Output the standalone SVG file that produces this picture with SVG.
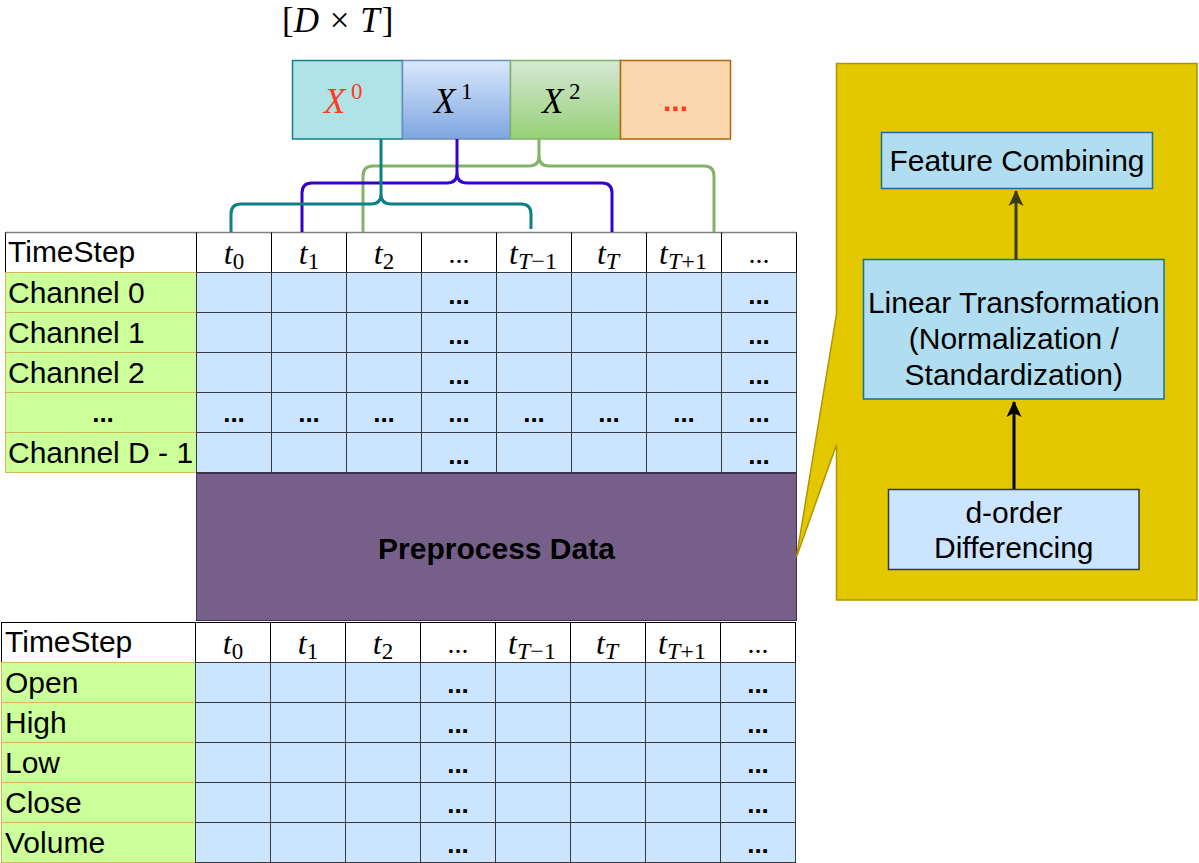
<svg xmlns="http://www.w3.org/2000/svg" width="1199" height="863" viewBox="0 0 1199 863">
<defs>
<linearGradient id="gBlue" x1="0" y1="0" x2="0" y2="1"><stop offset="0" stop-color="#dae8fc"/><stop offset="1" stop-color="#7ea6e0"/></linearGradient>
<linearGradient id="gGreen" x1="0" y1="0" x2="0" y2="1"><stop offset="0" stop-color="#d5e8d4"/><stop offset="1" stop-color="#97d077"/></linearGradient>
<marker id="arrBlack" markerUnits="userSpaceOnUse" markerWidth="16" markerHeight="16" viewBox="0 0 16 16" refX="15" refY="8" orient="auto"><path d="M0,0.5 L16,8 L0,15.5 L4,8 Z" fill="#000"/></marker>
<marker id="arrOlive" markerUnits="userSpaceOnUse" markerWidth="16" markerHeight="16" viewBox="0 0 16 16" refX="15" refY="8" orient="auto"><path d="M0,0.5 L16,8 L0,15.5 L4,8 Z" fill="#3a3a1a"/></marker>
<style>
.sans{font-family:"Liberation Sans",Arial,Helvetica,sans-serif;font-size:30px;fill:#000}
.serif{font-family:"Liberation Serif","Times New Roman",serif;fill:#000}
.it{font-style:italic}
.hdr{fill:#fff;stroke:#000;stroke-width:1}
.lbl{fill:#ccff99;stroke:#d6b656;stroke-width:1}
.cell{fill:#cce5ff;stroke:#36393d;stroke-width:1}
.grid{stroke:#36393d;stroke-width:1}
.hgrid{stroke:#000;stroke-width:1}
.dots{font-family:"Liberation Sans",Arial,sans-serif;font-size:26px;font-weight:bold;text-anchor:middle;fill:#000}
.tmath{font-family:"Liberation Serif","Times New Roman",serif;font-size:32px;text-anchor:middle;fill:#000}
.brace{fill:none;stroke-width:3;stroke-linejoin:round}
.box{fill:#b1ddf0;stroke:#10739e;stroke-width:1.5}
.mid{text-anchor:middle}
</style>
</defs>
<rect width="1199" height="863" fill="#fff"/>

<!-- dimension label -->
<g id="dim-label">
<text x="282" y="32" class="serif" font-size="35">[<tspan class="it">D</tspan> <tspan dx="2">×</tspan> <tspan class="it" dx="2">T</tspan><tspan dx="2">]</tspan></text>
</g>

<!-- X blocks -->
<g id="x0">
<rect x="292.5" y="60.5" width="110" height="78.5" fill="#b0e3e6" stroke="#0e8088" stroke-width="1.5"/>
<text x="324" y="112.7" class="serif it" font-size="35" style="fill:#ff3b1f">X</text>
<text x="351" y="99" class="serif" font-size="23" style="fill:#ff3b1f">0</text>
</g>
<g id="x1">
<rect x="402.5" y="60.5" width="108" height="78.5" fill="url(#gBlue)" stroke="#6c8ebf" stroke-width="1.5"/>
<text x="434" y="112.7" class="serif it" font-size="35">X</text>
<text x="461" y="99" class="serif" font-size="23">1</text>
</g>
<g id="x2">
<rect x="510.5" y="60.5" width="110" height="78.5" fill="url(#gGreen)" stroke="#82b366" stroke-width="1.5"/>
<text x="542" y="112.7" class="serif it" font-size="35">X</text>
<text x="569" y="99" class="serif" font-size="23">2</text>
</g>
<g id="x-more">
<rect x="620.5" y="60.5" width="110" height="78.5" fill="#fad7ac" stroke="#b46504" stroke-width="1.5"/>
<text x="675.5" y="111" class="sans mid" font-size="27" font-weight="bold" style="fill:#ff3b1f">...</text>
</g>

<!-- top table -->
<g id="table-top">
<rect class="hdr" x="5.5" y="232.5" width="791" height="40"/>
<line x1="5.5" y1="232.5" x2="796.5" y2="232.5" stroke="#808080" stroke-width="1.5"/>
<g class="hgrid">
<line x1="196.5" y1="232.5" x2="196.5" y2="272.5"/><line x1="271.5" y1="232.5" x2="271.5" y2="272.5"/><line x1="346.5" y1="232.5" x2="346.5" y2="272.5"/><line x1="421.5" y1="232.5" x2="421.5" y2="272.5"/><line x1="496.5" y1="232.5" x2="496.5" y2="272.5"/><line x1="571.5" y1="232.5" x2="571.5" y2="272.5"/><line x1="646.5" y1="232.5" x2="646.5" y2="272.5"/><line x1="721.5" y1="232.5" x2="721.5" y2="272.5"/>
</g>
<rect class="lbl" x="5.5" y="272.5" width="191" height="40"/>
<rect class="lbl" x="5.5" y="312.5" width="191" height="40"/>
<rect class="lbl" x="5.5" y="352.5" width="191" height="40"/>
<rect class="lbl" x="5.5" y="392.5" width="191" height="40"/>
<rect class="lbl" x="5.5" y="432.5" width="191" height="40"/>
<rect class="cell" x="196.5" y="272.5" width="600" height="200"/>
<g class="grid">
<line x1="196.5" y1="312.5" x2="796.5" y2="312.5"/><line x1="196.5" y1="352.5" x2="796.5" y2="352.5"/><line x1="196.5" y1="392.5" x2="796.5" y2="392.5"/><line x1="196.5" y1="432.5" x2="796.5" y2="432.5"/>
<line x1="271.5" y1="272.5" x2="271.5" y2="472.5"/><line x1="346.5" y1="272.5" x2="346.5" y2="472.5"/><line x1="421.5" y1="272.5" x2="421.5" y2="472.5"/><line x1="496.5" y1="272.5" x2="496.5" y2="472.5"/><line x1="571.5" y1="272.5" x2="571.5" y2="472.5"/><line x1="646.5" y1="272.5" x2="646.5" y2="472.5"/><line x1="721.5" y1="272.5" x2="721.5" y2="472.5"/>
</g>
<text class="sans" x="8" y="262">TimeStep</text>
<text class="tmath" x="234" y="264"><tspan class="it">t</tspan><tspan font-size="23" dy="5">0</tspan></text>
<text class="tmath" x="309" y="264"><tspan class="it">t</tspan><tspan font-size="23" dy="5">1</tspan></text>
<text class="tmath" x="384" y="264"><tspan class="it">t</tspan><tspan font-size="23" dy="5">2</tspan></text>
<text class="serif mid" font-size="28" x="459" y="263">...</text>
<text class="tmath" x="533" y="264"><tspan class="it">t</tspan><tspan font-size="24" dy="5"><tspan class="it">T</tspan>−1</tspan></text>
<text class="tmath" x="608" y="264"><tspan class="it">t</tspan><tspan font-size="24" dy="5" class="it">T</tspan></text>
<text class="tmath" x="683" y="264"><tspan class="it">t</tspan><tspan font-size="24" dy="5"><tspan class="it">T</tspan>+1</tspan></text>
<text class="serif mid" font-size="28" x="759" y="263">...</text>
<text class="sans" x="8" y="303">Channel 0</text>
<text class="sans" x="8" y="343">Channel 1</text>
<text class="sans" x="8" y="383">Channel 2</text>
<text class="dots" x="103" y="421.5">...</text>
<text class="sans" x="8" y="463">Channel D - 1</text>
<text class="dots" x="459" y="303.5">...</text><text class="dots" x="759" y="303.5">...</text>
<text class="dots" x="459" y="343.5">...</text><text class="dots" x="759" y="343.5">...</text>
<text class="dots" x="459" y="383.5">...</text><text class="dots" x="759" y="383.5">...</text>
<text class="dots" x="234" y="421.5">...</text><text class="dots" x="309" y="421.5">...</text><text class="dots" x="384" y="421.5">...</text><text class="dots" x="459" y="421.5">...</text><text class="dots" x="534" y="421.5">...</text><text class="dots" x="609" y="421.5">...</text><text class="dots" x="684" y="421.5">...</text><text class="dots" x="759" y="421.5">...</text>
<text class="dots" x="459" y="463.5">...</text><text class="dots" x="759" y="463.5">...</text>
</g>

<!-- preprocess -->
<g id="preprocess">
<rect x="196.5" y="473.5" width="600" height="147" fill="#76608a" stroke="#432d57" stroke-width="1"/>
<text class="sans mid" x="496.5" y="559" font-weight="bold">Preprocess Data</text>
</g>

<!-- bottom table -->
<g id="table-bottom">
<rect class="hdr" x="1.5" y="622.5" width="794" height="40"/>
<g class="hgrid">
<line x1="195.5" y1="622.5" x2="195.5" y2="662.5"/><line x1="270.5" y1="622.5" x2="270.5" y2="662.5"/><line x1="345.5" y1="622.5" x2="345.5" y2="662.5"/><line x1="420.5" y1="622.5" x2="420.5" y2="662.5"/><line x1="495.5" y1="622.5" x2="495.5" y2="662.5"/><line x1="570.5" y1="622.5" x2="570.5" y2="662.5"/><line x1="645.5" y1="622.5" x2="645.5" y2="662.5"/><line x1="720.5" y1="622.5" x2="720.5" y2="662.5"/>
</g>
<rect class="lbl" x="1.5" y="662.5" width="194" height="40"/>
<rect class="lbl" x="1.5" y="702.5" width="194" height="40"/>
<rect class="lbl" x="1.5" y="742.5" width="194" height="40"/>
<rect class="lbl" x="1.5" y="782.5" width="194" height="40"/>
<rect class="lbl" x="1.5" y="822.5" width="194" height="40"/>
<rect class="cell" x="195.5" y="662.5" width="600" height="200"/>
<g class="grid">
<line x1="195.5" y1="702.5" x2="795.5" y2="702.5"/><line x1="195.5" y1="742.5" x2="795.5" y2="742.5"/><line x1="195.5" y1="782.5" x2="795.5" y2="782.5"/><line x1="195.5" y1="822.5" x2="795.5" y2="822.5"/>
<line x1="270.5" y1="662.5" x2="270.5" y2="862.5"/><line x1="345.5" y1="662.5" x2="345.5" y2="862.5"/><line x1="420.5" y1="662.5" x2="420.5" y2="862.5"/><line x1="495.5" y1="662.5" x2="495.5" y2="862.5"/><line x1="570.5" y1="662.5" x2="570.5" y2="862.5"/><line x1="645.5" y1="662.5" x2="645.5" y2="862.5"/><line x1="720.5" y1="662.5" x2="720.5" y2="862.5"/>
</g>
<text class="sans" x="5" y="652">TimeStep</text>
<text class="tmath" x="233" y="654"><tspan class="it">t</tspan><tspan font-size="23" dy="5">0</tspan></text>
<text class="tmath" x="308" y="654"><tspan class="it">t</tspan><tspan font-size="23" dy="5">1</tspan></text>
<text class="tmath" x="383" y="654"><tspan class="it">t</tspan><tspan font-size="23" dy="5">2</tspan></text>
<text class="serif mid" font-size="28" x="458" y="653">...</text>
<text class="tmath" x="532" y="654"><tspan class="it">t</tspan><tspan font-size="24" dy="5"><tspan class="it">T</tspan>−1</tspan></text>
<text class="tmath" x="607" y="654"><tspan class="it">t</tspan><tspan font-size="24" dy="5" class="it">T</tspan></text>
<text class="tmath" x="682" y="654"><tspan class="it">t</tspan><tspan font-size="24" dy="5"><tspan class="it">T</tspan>+1</tspan></text>
<text class="serif mid" font-size="28" x="758" y="653">...</text>
<text class="sans" x="5" y="693">Open</text>
<text class="sans" x="5" y="733">High</text>
<text class="sans" x="5" y="773">Low</text>
<text class="sans" x="5" y="813">Close</text>
<text class="sans" x="5" y="853">Volume</text>
<text class="dots" x="458" y="692.5">...</text><text class="dots" x="758" y="692.5">...</text>
<text class="dots" x="458" y="732.5">...</text><text class="dots" x="758" y="732.5">...</text>
<text class="dots" x="458" y="772.5">...</text><text class="dots" x="758" y="772.5">...</text>
<text class="dots" x="458" y="812.5">...</text><text class="dots" x="758" y="812.5">...</text>
<text class="dots" x="458" y="852.5">...</text><text class="dots" x="758" y="852.5">...</text>
</g>

<!-- callout panel -->
<g id="callout">
<path d="M836.5,63.5 H1197 V600 H836.5 V444.5 L796.5,557 L836.5,314 Z" fill="#e3c800" stroke="#b09500" stroke-width="1.5"/>
</g>
<g id="feature-combining">
<rect class="box" x="881.5" y="132.5" width="271" height="56"/>
<text class="sans mid" x="1017" y="171">Feature Combining</text>
</g>
<g id="linear-transformation">
<rect class="box" x="863.5" y="259.5" width="300.5" height="139.5"/>
<text class="sans mid" x="1013.8" y="313">Linear Transformation</text>
<text class="sans mid" x="1013.8" y="349">(Normalization /</text>
<text class="sans mid" x="1013.8" y="385">Standardization)</text>
</g>
<g id="d-order">
<rect x="888.5" y="489.5" width="250.5" height="80" fill="#cce5ff" stroke="#36393d" stroke-width="1.5"/>
<text class="sans mid" x="1013.8" y="523">d-order</text>
<text class="sans mid" x="1013.8" y="558">Differencing</text>
</g>

<!-- connectors -->
<g id="connectors">
<path class="brace" stroke="#82b366" d="M363,232 V176 Q363,166 373,166 H529 Q539,166 539,156 V139 M539,156 Q539,166 549,166 H704 Q714,166 714,176 V232"/>
<path class="brace" stroke="#3700cc" d="M302,232 V193 Q302,183 312,183 H447 Q457,183 457,173 V139 M457,173 Q457,183 467,183 H602 Q612,183 612,193 V232"/>
<path class="brace" stroke="#0e8088" d="M231,232 V214 Q231,204 241,204 H371 Q381,204 381,194 V139 M381,194 Q381,204 391,204 H521 Q531,204 531,214 V229"/>
<path d="M1014,489 V402" stroke="#000" stroke-width="3" fill="none" marker-end="url(#arrBlack)"/>
<path d="M1016,259.5 V191" stroke="#3a3a1a" stroke-width="3" fill="none" marker-end="url(#arrOlive)"/>
</g>
</svg>
